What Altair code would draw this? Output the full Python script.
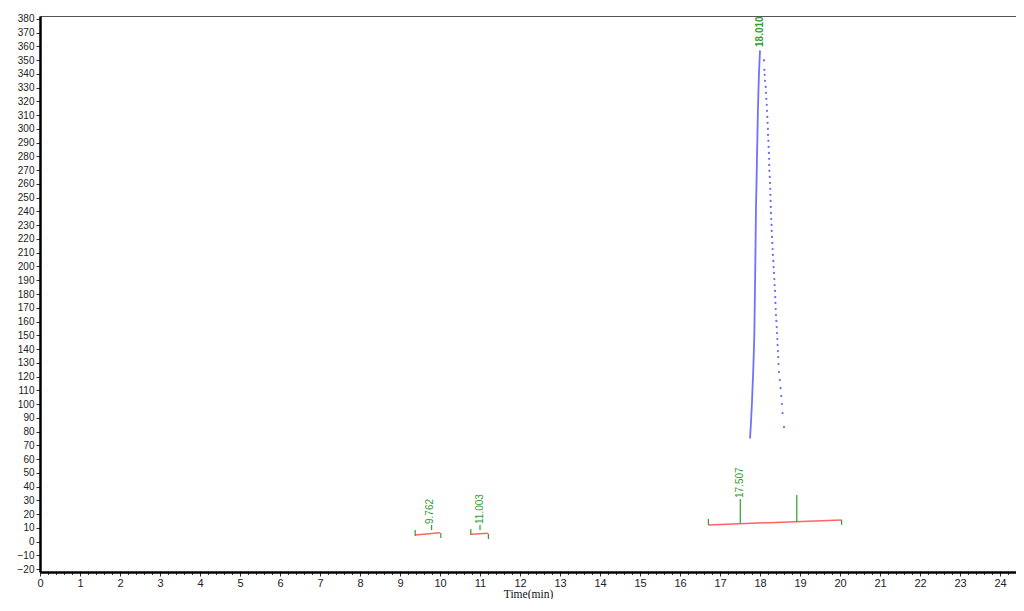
import altair as alt
import pandas as pd

# ---- axis tick values ----
x_ticks = [round(i * 0.2, 1) for i in range(0, 123)]
y_ticks = list(range(-20, 381, 10))

# ---- main peak (rising edge drawn as a trace, falling edge as sparse points) ----
left_time = [17.75, 17.775, 17.80, 17.833, 17.858, 17.87, 17.882, 17.89, 17.90,
             17.918, 17.925, 17.95, 17.975, 18.00]
left_signal = [75, 87, 101.5, 126, 150, 175, 199, 219, 243, 268, 280, 316, 341, 357]

right_time = [18.100, 18.108, 18.118, 18.125, 18.143, 18.150, 18.158, 18.168, 18.175, 18.183,
              18.190, 18.198, 18.200, 18.208, 18.215, 18.223, 18.228, 18.230, 18.235, 18.243,
              18.250, 18.255, 18.260, 18.265, 18.270, 18.275, 18.280, 18.288, 18.293, 18.300,
              18.308, 18.315, 18.323, 18.333, 18.340, 18.350, 18.358, 18.365, 18.375, 18.380,
              18.385, 18.393, 18.400, 18.408, 18.418, 18.425, 18.433, 18.440, 18.448, 18.455,
              18.463, 18.475, 18.495, 18.515, 18.530, 18.548, 18.565, 18.600]
right_signal = [349.7, 342.9, 339.3, 334.9, 330.5, 326.2, 321.8, 317.5, 313.1, 308.7,
                304.4, 300.0, 295.6, 291.3, 286.9, 282.5, 278.2, 273.8, 269.5, 265.1,
                260.7, 256.4, 252.0, 247.6, 243.3, 238.9, 234.5, 230.2, 225.8, 221.5,
                217.1, 212.7, 208.4, 204.0, 199.6, 195.3, 190.9, 186.5, 182.2, 177.8,
                173.5, 169.1, 164.7, 160.4, 156.0, 151.6, 147.3, 142.9, 138.5, 134.2,
                129.1, 123.3, 117.5, 111.6, 105.8, 100.0, 93.5, 83.3]

# ---- peak labels ----
label_text = ["9.762", "11.003", "17.507", "18.010"]
label_time = [9.762, 11.003, 17.507, 18.010]
label_signal = [12.9, 12.9, 31.8, 359.5]
main_label = "18.010"

# ---- integration baselines (red) ----
base_t1 = [9.38, 10.77, 16.71]
base_s1 = [4.9, 5.4, 12.2]
base_t2 = [10.0, 11.21, 20.04]
base_s2 = [6.6, 6.1, 15.8]

# ---- green markers (peak drop lines and baseline end ticks) ----
mark_t = [9.79, 11.0, 17.507, 18.92, 9.38, 10.02, 10.77, 11.21, 16.71, 20.04]
mark_s1 = [12.2, 12.2, 31.0, 34.0, 8.6, 6.4, 9.2, 5.7, 16.5, 15.8]
mark_s2 = [8.5, 8.5, 13.4, 14.3, 4.2, 2.7, 4.9, 2.0, 12.2, 12.2]

GREEN = "#2f9f2f"
RED = "#ff6464"
BLUE = "#5858ff"

int_test = "abs(datum.value - round(datum.value)) < 0.01"

x_scale = alt.Scale(domain=[0, 24.4], nice=False, zero=False)
y_scale = alt.Scale(domain=[-22, 382], nice=False, zero=False)

x_axis = alt.Axis(
    values=x_ticks,
    labelExpr=f"{int_test} ? format(datum.value, 'd') : ''",
    labelOverlap=False,
    labelFlush=False,
    tickSize={"condition": {"test": int_test, "value": 4}, "value": 2.5},
    title="Time(min)",
    titleFont="Liberation Serif",
    titleFontWeight="normal",
    titleFontSize=11.5,
    titleColor="#111",
    titleY=25,
    titleBaseline="alphabetic",
    labelFont="Liberation Sans",
    labelFontSize=11,
    labelColor="#222",
    labelPadding=1,
    domainColor="black",
    domainWidth=2.5,
    tickColor="#333",
    grid=False,
)
y_axis = alt.Axis(
    values=y_ticks,
    labelOverlap=False,
    title=None,
    tickSize=4,
    labelFont="Liberation Sans",
    labelFontSize=10,
    labelColor="#222",
    labelPadding=2,
    domainColor="black",
    domainWidth=2.5,
    tickColor="#333",
    grid=False,
)

def X(field="t"):
    return alt.X(f"{field}:Q", scale=x_scale, axis=x_axis)

def Y(field="s"):
    return alt.Y(f"{field}:Q", scale=y_scale, axis=y_axis)

left_df = pd.DataFrame({"t": left_time, "s": left_signal})
right_df = pd.DataFrame({"t": right_time, "s": right_signal})
label_df = pd.DataFrame({"t": label_time, "s": label_signal, "txt": label_text})
base_df = pd.DataFrame({"t": base_t1, "s": base_s1, "t2": base_t2, "s2": base_s2})
mark_df = pd.DataFrame({"t": mark_t, "s": mark_s1, "s2": mark_s2})

rise = alt.Chart(left_df).mark_line(color=BLUE, strokeWidth=1.8, opacity=0.85).encode(
    x=X(), y=Y(), order="s:Q")
fall = alt.Chart(right_df).mark_circle(color=BLUE, size=5, opacity=0.9).encode(x=X(), y=Y())

baselines = alt.Chart(base_df).mark_rule(color=RED, strokeWidth=1.5).encode(
    x=X(), y=Y(), x2="t2:Q", y2="s2:Q")
markers = alt.Chart(mark_df).mark_rule(color=GREEN, strokeWidth=1.2).encode(
    x=X(), y=Y(), y2="s2:Q")

labels_small = alt.Chart(label_df).transform_filter(
    alt.datum.txt != main_label
).mark_text(
    angle=270, align="left", baseline="middle", color=GREEN,
    font="Liberation Sans", fontSize=10
).encode(x=X(), y=Y(), text="txt:N")

labels_main = alt.Chart(label_df).transform_filter(
    alt.datum.txt == main_label
).mark_text(
    angle=270, align="left", baseline="middle", color=GREEN,
    font="Liberation Sans", fontSize=10, fontWeight="bold"
).encode(x=X(), y=Y(), text="txt:N")

chart = alt.layer(baselines, markers, rise, fall, labels_small, labels_main).properties(
    width=976,
    height=556,
    autosize=alt.AutoSizeParams(type="none"),
    padding={"left": 32, "top": 8, "right": 0, "bottom": 27},
    background="white",
).configure_view(stroke="#555", strokeWidth=1)

chart.save("out.html", embed_options={"renderer": "svg", "actions": False})
